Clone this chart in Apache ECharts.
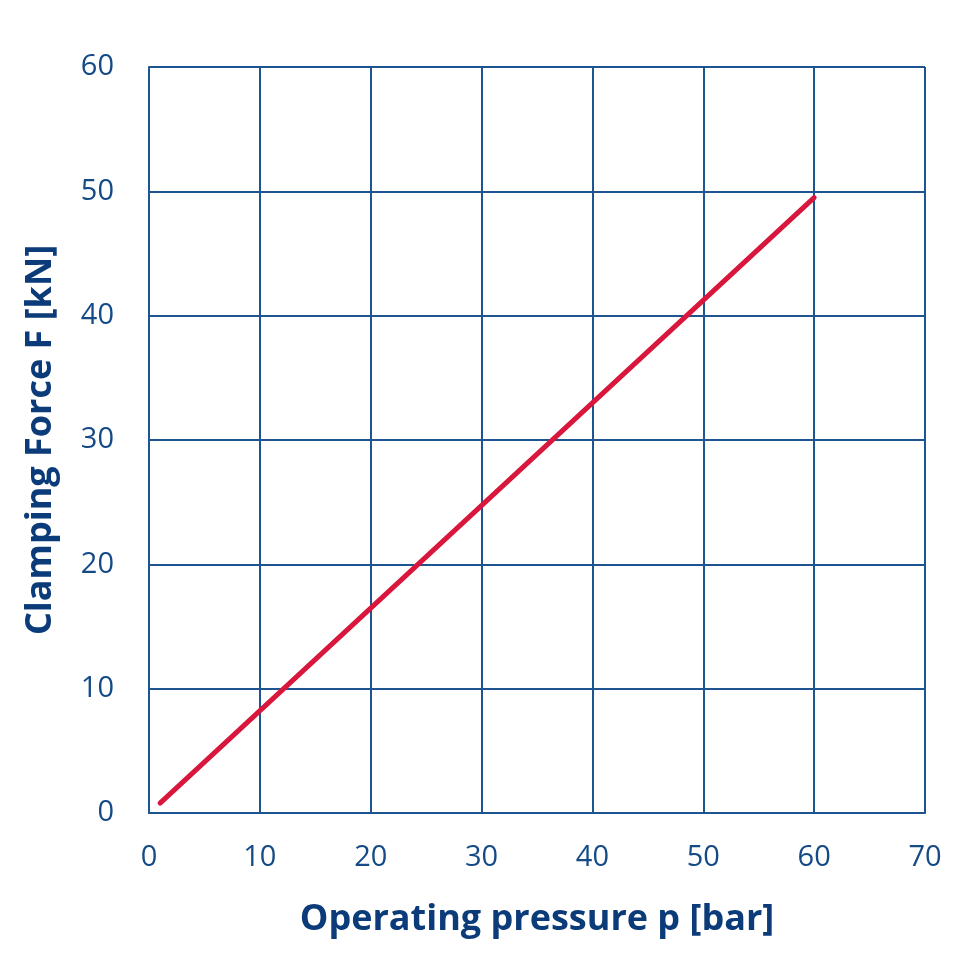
<!DOCTYPE html>
<html>
<head>
<meta charset="utf-8">
<script src="https://cdn.jsdelivr.net/npm/echarts@6/dist/echarts.min.js"></script>
<style>
  html, body { margin: 0; padding: 0; background: #fff; }
  #chart { width: 980px; height: 971px; }
</style>
</head>
<body>
<div id="chart"></div>
<script>
// pressure [bar] vs clamping force [kN]
const pressure = [1, 60];
const force = [0.8, 49.5];
const xTicks = [0, 10, 20, 30, 40, 50, 60, 70];
const yTicks = [0, 10, 20, 30, 40, 50, 60];

const gridColor = "#1d5590";
const textColor = "#144a86";
const titleColor = "#0b3b78";

const chart = echarts.init(document.getElementById("chart"), null, { renderer: "canvas" });

chart.setOption({
  animation: false,
  grid: { left: 149, right: 55, top: 67, bottom: 158 },
  xAxis: {
    type: "value",
    min: xTicks[0],
    max: xTicks[xTicks.length - 1],
    interval: 10,
    name: "Operating pressure p [bar]",
    nameLocation: "middle",
    nameGap: 89,
    nameTextStyle: {
      color: titleColor,
      fontSize: 36,
      fontWeight: "bold",
      fontFamily: "'Open Sans', sans-serif",
    },
    axisLine: { show: true, lineStyle: { color: gridColor, width: 2 } },
    axisTick: { show: false },
    axisLabel: {
      color: textColor,
      fontSize: 29,
      margin: 30,
      fontFamily: "'Open Sans', sans-serif",
    },
    splitLine: { show: true, lineStyle: { color: gridColor, width: 2 } },
  },
  yAxis: {
    type: "value",
    min: yTicks[0],
    max: yTicks[yTicks.length - 1],
    interval: 10,
    name: "Clamping Force F [kN]",
    nameLocation: "middle",
    nameGap: 90,
    nameTextStyle: {
      color: titleColor,
      fontSize: 36,
      fontWeight: "bold",
      fontFamily: "'Open Sans', sans-serif",
    },
    axisLine: { show: true, lineStyle: { color: gridColor, width: 2 } },
    axisTick: { show: false },
    axisLabel: {
      color: textColor,
      fontSize: 29,
      margin: 35,
      fontFamily: "'Open Sans', sans-serif",
    },
    splitLine: { show: true, lineStyle: { color: gridColor, width: 2 } },
  },
  series: [
    {
      type: "line",
      data: pressure.map((p, i) => [p, force[i]]),
      symbol: "none",
      lineStyle: { color: "#d9163c", width: 5, cap: "round" },
    },
  ],
});
</script>
</body>
</html>
